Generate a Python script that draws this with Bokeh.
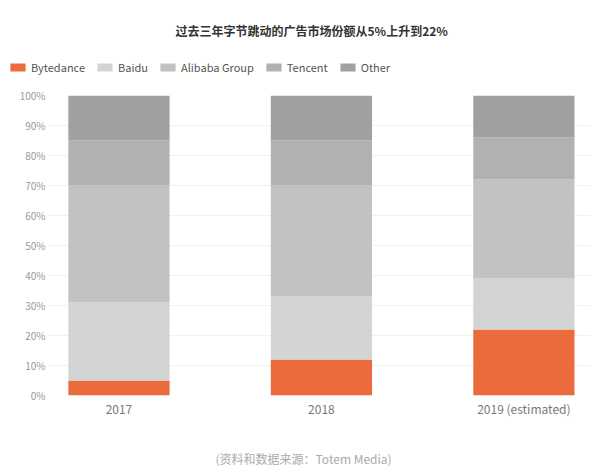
from bokeh.plotting import figure
from bokeh.layouts import column
from bokeh.models import (ColumnDataSource, FixedTicker, PrintfTickFormatter, Legend,
                          LegendItem, Range1d)
from bokeh.embed import file_html
from bokeh.resources import INLINE

years = ["2017", "2018", "2019 (estimated)"]
companies = ["Bytedance", "Baidu", "Alibaba Group", "Tencent", "Other"]
bytedance = [5, 12, 22]
baidu = [26, 21, 17]
alibaba = [39, 37, 33]
tencent = [15, 15, 14]
other = [15, 15, 14]
colors = ["#EB6B3C", "#D3D5D4", "#C0C2C3", "#AFB1B2", "#9FA1A0"]
title_text = "过去三年字节跳动的广告市场份额从5%上升到22%"
source_text = "(资料和数据来源：Totem Media)"

FONT = "Noto Sans CJK SC"
W = 592

xs = list(range(len(years)))
src = ColumnDataSource(dict(x=xs, Bytedance=bytedance, Baidu=baidu,
                            Alibaba=alibaba, Tencent=tencent, Other=other))
keys = ["Bytedance", "Baidu", "Alibaba", "Tencent", "Other"]

# ---- header figure: title + legend ----
top = figure(width=W, height=80, output_backend="svg", toolbar_location=None,
             x_axis_location=None, y_axis_location=None,
             x_range=Range1d(-0.348, 2.329), y_range=Range1d(1000, 1001),
             min_border_left=0, min_border_right=0, min_border_top=41,
             min_border_bottom=0)
top.frame_align = False
top.grid.visible = False
top.outline_line_color = None
top.title.text = title_text
top.title.align = "left"
top.title.offset = 175
top.title.text_font = FONT
top.title.text_font_size = "12px"
top.title.text_font_style = "bold"
top.title.text_color = "#333333"
top.title.standoff = 6

hdr = top.vbar_stack(keys, x="x", width=0.5, source=src, color=colors, line_color=None)
legend = Legend(items=[LegendItem(label=c, renderers=[r]) for c, r in zip(companies, hdr)],
                orientation="horizontal", location=(8, 5),
                label_text_font=FONT, label_text_font_size="11px",
                label_text_color="#555555", glyph_width=19, glyph_height=10,
                label_standoff=4, spacing=10, padding=0, margin=0,
                border_line_color=None, background_fill_alpha=0,
                label_height=14)
top.add_layout(legend, "center")

# ---- main chart ----
p = figure(width=W, height=340, output_backend="svg", toolbar_location=None,
           x_range=Range1d(-0.348, 2.329), y_range=Range1d(0, 100),
           min_border_left=48, min_border_right=2, min_border_top=15,
           min_border_bottom=25)
p.frame_align = False
p.outline_line_color = None

p.vbar_stack(keys, x="x", width=0.5, source=src, color=colors, line_color=None)

p.xgrid.visible = False
p.ygrid.grid_line_color = "#F0F0F0"
p.ygrid.grid_line_width = 1
p.ygrid.ticker = FixedTicker(ticks=list(range(0, 101, 10)))

p.yaxis.ticker = FixedTicker(ticks=list(range(0, 101, 10)))
p.yaxis.formatter = PrintfTickFormatter(format="%d%%")
p.yaxis.axis_line_color = None
p.yaxis.major_tick_line_color = None
p.yaxis.minor_tick_line_color = None
p.yaxis.major_tick_out = 0
p.yaxis.major_tick_in = 0
p.yaxis.minor_tick_out = 0
p.yaxis.major_label_text_font = FONT
p.yaxis.major_label_text_font_size = "10px"
p.yaxis.major_label_text_color = "#999999"
p.yaxis.major_label_standoff = 3

p.xaxis.ticker = FixedTicker(ticks=xs)
p.xaxis.major_label_overrides = {i: y for i, y in zip(xs, years)}
p.xaxis.axis_line_color = None
p.xaxis.major_tick_line_color = None
p.xaxis.minor_tick_line_color = None
p.xaxis.major_tick_out = 0
p.xaxis.major_tick_in = 0
p.xaxis.minor_tick_out = 0
p.xaxis.major_label_text_font = FONT
p.xaxis.major_label_text_font_size = "12px"
p.xaxis.major_label_text_color = "#777777"
p.xaxis.major_label_standoff = 4

# ---- footer figure: source note ----
foot = figure(width=W, height=54, output_backend="svg", toolbar_location=None,
              x_axis_location=None, y_axis_location=None,
              x_range=Range1d(0, 1), y_range=Range1d(0, 1),
              min_border_left=0, min_border_right=0, min_border_top=49,
              min_border_bottom=0)
foot.frame_align = False
foot.grid.visible = False
foot.outline_line_color = None
foot.title.text = source_text
foot.title.align = "left"
foot.title.offset = 215
foot.title.text_font = FONT
foot.title.text_font_size = "12px"
foot.title.text_font_style = "normal"
foot.title.text_color = "#AAAAAA"
foot.title.standoff = 6

layout = column(top, p, foot, spacing=0)
open("out.html", "w").write(file_html(layout, INLINE))
